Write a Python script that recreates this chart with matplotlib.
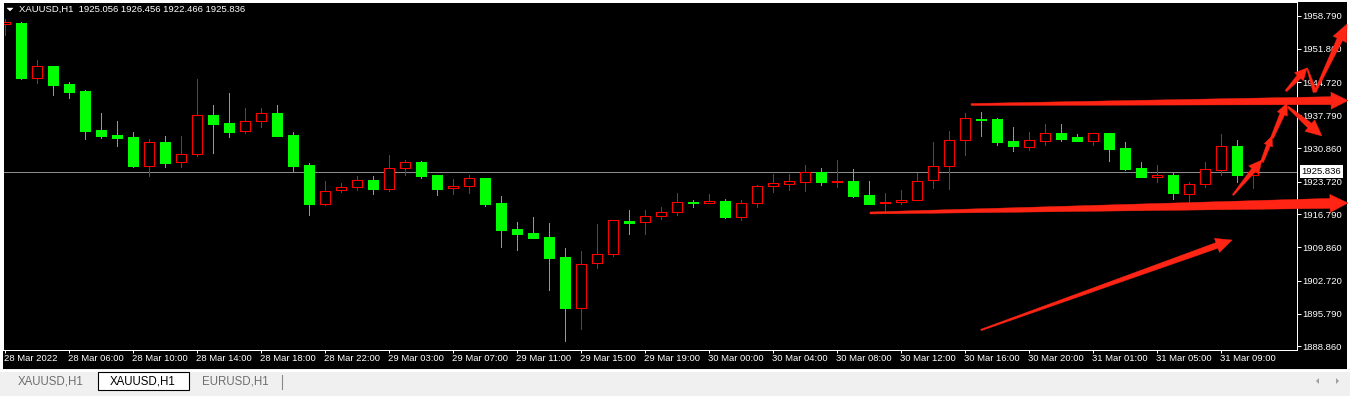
import numpy as np
import matplotlib
matplotlib.use('Agg')
import matplotlib.pyplot as plt
from matplotlib.patches import Polygon, Rectangle
from matplotlib.transforms import IdentityTransform

plt.rcParams['font.family'] = ['Liberation Sans', 'DejaVu Sans']

symbol = 'XAUUSD,H1'
last_ohlc = ['1925.056', '1926.456', '1922.466', '1925.836']
bid = 1925.836

# H1 bars, 28 Mar 02:00 .. 31 Mar 10:00
opens = [1957.03, 1957.31, 1945.73, 1948.21, 1944.40, 1942.92, 1934.67, 1933.61, 1933.19, 1927.12,
         1932.13, 1927.96, 1929.65, 1937.78, 1936.15, 1934.39, 1936.51, 1938.27, 1933.61, 1927.26,
         1919.07, 1922.04, 1922.67, 1924.09, 1922.25, 1926.69, 1927.90, 1925.15, 1922.33, 1922.76,
         1924.51, 1919.22, 1913.72, 1912.88, 1912.03, 1907.80, 1896.94, 1906.46, 1908.37, 1915.41,
         1915.14, 1916.41, 1917.25, 1919.50, 1919.16, 1919.65, 1916.32, 1919.16, 1922.76, 1923.31,
         1923.73, 1925.85, 1923.67, 1923.88, 1920.92, 1919.16, 1919.37, 1919.79, 1924.03, 1926.99,
         1932.49, 1937.06, 1937.00, 1932.34, 1931.14, 1932.40, 1934.03, 1933.19, 1932.40, 1934.03,
         1930.86, 1926.63, 1924.79, 1925.15, 1921.06, 1923.18, 1926.27, 1931.28, 1925.056]
highs = [1958.09, 1957.52, 1949.48, 1948.30, 1944.83, 1943.13, 1938.20, 1936.57, 1934.18, 1932.70,
         1933.40, 1933.40, 1945.46, 1939.96, 1942.50, 1939.39, 1939.39, 1939.96, 1934.25, 1927.62,
         1923.88, 1923.45, 1924.94, 1924.94, 1929.38, 1928.32, 1928.11, 1925.20, 1924.24, 1925.15,
         1924.51, 1920.70, 1915.20, 1916.26, 1914.99, 1909.70, 1909.07, 1914.78, 1915.56, 1917.74,
         1917.74, 1918.38, 1921.34, 1919.86, 1921.13, 1920.07, 1919.86, 1923.09, 1925.36, 1925.36,
         1927.26, 1926.63, 1928.32, 1926.42, 1923.88, 1921.28, 1921.97, 1925.57, 1932.19, 1934.46,
         1938.27, 1938.48, 1937.21, 1935.30, 1934.25, 1936.00, 1936.00, 1933.82, 1934.03, 1934.03,
         1932.19, 1927.90, 1927.26, 1925.57, 1923.67, 1927.90, 1933.89, 1932.55, 1926.456]
lows = [1954.77, 1945.46, 1944.68, 1942.07, 1941.50, 1932.83, 1933.04, 1931.35, 1926.90, 1925.00,
        1926.90, 1926.90, 1929.23, 1929.87, 1933.25, 1934.10, 1935.37, 1933.40, 1925.99, 1916.75,
        1918.86, 1921.61, 1922.04, 1921.19, 1921.83, 1925.21, 1924.58, 1920.98, 1921.19, 1921.40,
        1918.65, 1909.98, 1909.34, 1911.88, 1900.88, 1890.09, 1892.63, 1905.53, 1908.07, 1912.73,
        1912.73, 1915.90, 1916.75, 1918.44, 1919.16, 1916.11, 1915.69, 1918.44, 1921.61, 1922.04,
        1921.83, 1923.09, 1922.67, 1920.56, 1919.07, 1917.17, 1919.07, 1919.79, 1922.46, 1922.19,
        1929.44, 1933.46, 1931.56, 1930.23, 1930.50, 1931.56, 1932.34, 1932.40, 1931.56, 1928.17,
        1926.27, 1924.79, 1923.73, 1920.13, 1919.16, 1922.54, 1925.21, 1923.73, 1922.466]
closes = [1957.58, 1945.73, 1948.21, 1944.19, 1942.77, 1934.52, 1933.46, 1933.04, 1927.12, 1932.07,
          1927.75, 1929.53, 1937.78, 1936.00, 1934.31, 1936.51, 1938.20, 1933.46, 1927.12, 1919.07,
          1921.76, 1922.61, 1924.09, 1922.19, 1926.63, 1927.90, 1925.00, 1922.25, 1922.76, 1924.45,
          1919.07, 1913.57, 1912.73, 1911.88, 1907.65, 1897.07, 1906.25, 1908.37, 1915.56, 1915.05,
          1916.41, 1917.25, 1919.37, 1919.29, 1919.65, 1916.32, 1919.16, 1922.82, 1923.39, 1923.81,
          1925.78, 1923.73, 1923.88, 1920.77, 1919.07, 1919.43, 1919.86, 1923.88, 1926.99, 1932.49,
          1937.14, 1936.85, 1932.19, 1931.35, 1932.49, 1934.03, 1932.76, 1932.40, 1934.03, 1930.65,
          1926.48, 1924.79, 1925.08, 1921.28, 1923.18, 1926.35, 1931.22, 1925.06, 1925.836]

time_labels = ['28 Mar 2022', '28 Mar 06:00', '28 Mar 10:00', '28 Mar 14:00', '28 Mar 18:00',
               '28 Mar 22:00', '29 Mar 03:00', '29 Mar 07:00', '29 Mar 11:00', '29 Mar 15:00',
               '29 Mar 19:00', '30 Mar 00:00', '30 Mar 04:00', '30 Mar 08:00', '30 Mar 12:00',
               '30 Mar 16:00', '30 Mar 20:00', '31 Mar 01:00', '31 Mar 05:00', '31 Mar 09:00']
price_ticks = [1958.790, 1951.860, 1944.720, 1937.790, 1930.860, 1923.720,
               1916.790, 1909.860, 1902.720, 1895.790, 1888.860]

# hand drawn arrows, (bar, price) tail -> tip
arrow_tails = [(60.41, 1940.06), (54.09, 1917.11), (61.03, 1892.35), (76.78, 1920.92),
               (78.59, 1927.90), (79.22, 1932.98), (80.22, 1939.54), (80.09, 1942.92),
               (81.41, 1947.79), (81.91, 1942.71)]
arrow_tips = [(83.97, 1940.91), (83.97, 1919.22), (76.72, 1911.39), (78.59, 1928.32),
              (79.22, 1933.40), (80.16, 1940.38), (82.34, 1933.40), (81.41, 1947.79),
              (81.91, 1942.71), (83.91, 1957.10)]
# tail width, shaft width at head, head length, head width (pixels)
arrow_sizes = [(2, 8, 17, 17), (2, 10, 18, 18), (1.5, 6, 16, 15), (1.5, 5, 13, 13),
               (3, 4, 10, 9), (3, 5, 12, 11), (2, 6, 16, 15), (2, 5, 12, 12),
               (1, 4, 0, 0), (2, 6, 17, 15)]

W, H = 1350, 396
BULL = '#ff0000'
BEAR = '#00ff00'
ARROW = '#ff2414'
FS = 6.8

fig = plt.figure(figsize=(W / 100, H / 100), dpi=100, facecolor='white')
ident = IdentityTransform()

def px(x, y):
    return (x, H - y)

# terminal background + tab bar
fig.add_artist(Rectangle(px(3, 369), 1344, 367, transform=ident, fc='black', ec='none', zorder=-2))
fig.add_artist(Rectangle(px(0, 396), W, 27, transform=ident, fc='#f0f0f0', ec='none', zorder=-2))
fig.add_artist(Rectangle(px(0, 372), W, 2, transform=ident, fc='white', ec='none', zorder=-2))

ax = fig.add_axes([3 / W, (H - 350) / H, 1294 / W, 348 / H])
ax.set_facecolor('black')
for s in ax.spines.values():
    s.set_color('white')
    s.set_linewidth(0.72)

x = np.arange(len(opens))
o = np.array(opens); c = np.array(closes); hi = np.array(highs); lo = np.array(lows)
up = c >= o
cols = np.where(up, BULL, BEAR)

ax.vlines(x, lo, hi, colors=cols, linewidth=0.72, zorder=1, antialiased=False)
ax.bar(x[up], (c - o)[up], bottom=o[up], width=0.625, facecolor='black',
       edgecolor=BULL, linewidth=0.72, zorder=2, antialiased=False)
ax.bar(x[~up], (o - c)[~up], bottom=c[~up], width=0.625, facecolor=BEAR,
       edgecolor=BEAR, linewidth=0.72, zorder=2, antialiased=False)

ax.axhline(bid, color='#8c8c8c', linewidth=0.72, zorder=0.5, antialiased=False)

ax.set_xlim((3 - 4.5) / 16, (1297 - 4.5) / 16)
ax.set_ylim(1958.79 - 334 * 69.93 / 330.5, 1958.79 + 14 * 69.93 / 330.5)

ax.set_xticks(np.arange(0, 4 * len(time_labels), 4))
ax.set_xticklabels(time_labels, ha='left')
ax.tick_params(axis='x', colors='white', length=2.2, width=0.72, pad=1.0, labelsize=FS)
ax.yaxis.tick_right()
ax.set_yticks(price_ticks)
ax.set_yticklabels([f'{p:.3f}' for p in price_ticks])
ax.tick_params(axis='y', colors='white', length=3, width=0.72, pad=1, labelsize=FS)

ax.annotate(f'{bid:.3f}', xy=(1, bid), xycoords=('axes fraction', 'data'),
            xytext=(3.3, 0), textcoords='offset points', ha='left', va='center',
            fontsize=FS, color='black', annotation_clip=False,
            bbox=dict(boxstyle='square,pad=0.22', fc='white', ec='none'))

# header
fig.add_artist(Polygon([px(7, 8), px(13, 8), px(10, 11)], transform=ident,
                       fc='white', ec='white', lw=0.3, zorder=3))
fig.text(19 / W, 1 - 9.8 / H, symbol + '  ' + ' '.join(last_ohlc), color='white',
         fontsize=FS, ha='left', va='center')

# arrows
def draw_arrow(p0, p1, tail_w, base_w, head_len, head_w):
    a = ax.transData.transform(p0)
    b = ax.transData.transform(p1)
    d = b - a
    u = d / np.hypot(*d)
    n = np.array([-u[1], u[0]])
    base = b - u * head_len
    pts = [a + n * tail_w / 2, base + n * base_w / 2]
    if head_len > 0:
        pts += [base + n * head_w / 2, b, base - n * head_w / 2]
    pts += [base - n * base_w / 2, a - n * tail_w / 2]
    fig.add_artist(Polygon(pts, closed=True, transform=ident, fc=ARROW, ec=ARROW,
                           lw=0.3, zorder=5))

for t, p, sz in zip(arrow_tails, arrow_tips, arrow_sizes):
    draw_arrow(t, p, *sz)

# tabs
fig.add_artist(Rectangle(px(97.5, 390), 91.5, 18, transform=ident, fc='white',
                         ec='black', lw=0.8, zorder=1))
fig.text(50.5 / W, 1 - 382 / H, 'XAUUSD,H1', color='#6e6e6e', fontsize=8.3,
         ha='center', va='center')
fig.text(142.5 / W, 1 - 382 / H, 'XAUUSD,H1', color='black', fontsize=8.3,
         ha='center', va='center', zorder=2)
fig.text(235 / W, 1 - 382 / H, 'EURUSD,H1', color='#6e6e6e', fontsize=8.3,
         ha='center', va='center')
fig.add_artist(plt.Line2D([281.5, 281.5], [H - 375, H - 389], transform=ident,
                          color='#8a8a8a', lw=0.8))
fig.add_artist(Polygon([px(1316, 381), px(1319, 378), px(1319, 384)], transform=ident,
                       fc='#a0a0a0', ec='none'))
fig.add_artist(Polygon([px(1339, 381), px(1336, 378), px(1336, 384)], transform=ident,
                       fc='#a0a0a0', ec='none'))

fig.savefig('out.png', dpi=100, facecolor=fig.get_facecolor())
